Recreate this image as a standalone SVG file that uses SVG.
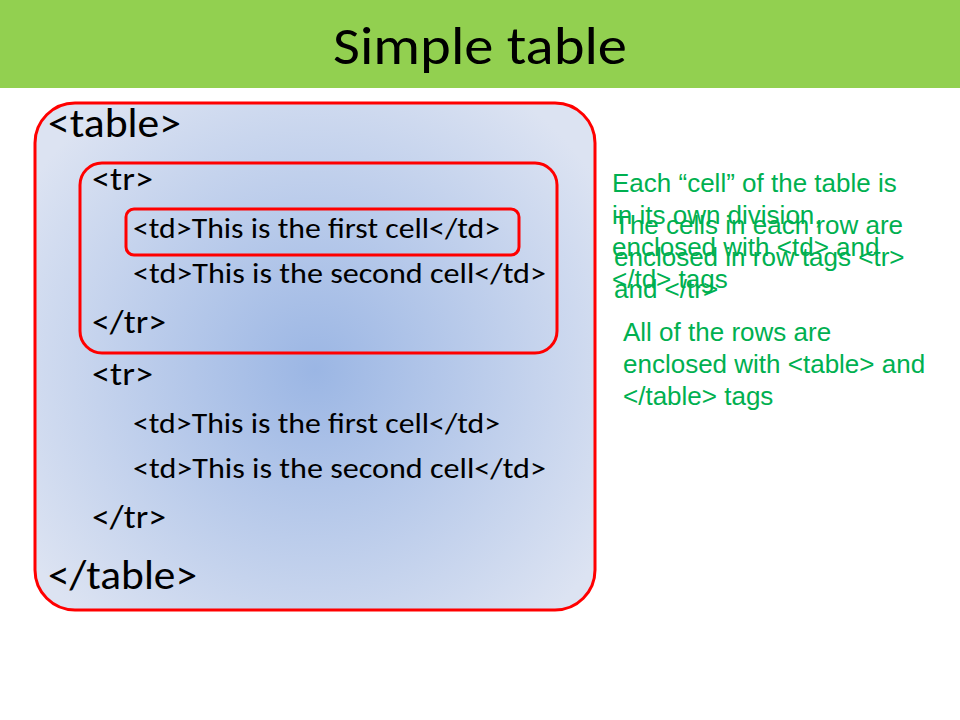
<svg xmlns="http://www.w3.org/2000/svg" width="960" height="720" viewBox="0 0 960 720">
<defs>
<radialGradient id="g" cx="315" cy="370" r="340" gradientUnits="userSpaceOnUse">
<stop offset="0" stop-color="#9BB6E4"/><stop offset="1" stop-color="#DCE3F2"/>
</radialGradient>
<style>
.box{fill:none;stroke:#FF0000;stroke-width:3}
.c{font-family:Carlito,Lato,"Open Sans",sans-serif;fill:#000}
.n{font-family:"Liberation Sans",Arial,sans-serif;font-size:26px;fill:#00B050}
</style>
</defs>
<rect width="960" height="720" fill="#fff"/>
<g id="title"><rect x="0" y="0" width="960" height="88" fill="#92D050"/>
<text x="333" y="64" class="c" font-size="54" textLength="294" lengthAdjust="spacingAndGlyphs">Simple table</text></g>
<g id="table"><rect x="35" y="103" width="560" height="507" rx="40" class="box" style="fill:url(#g)"/>
<text x="48" y="137" class="c" font-size="40" textLength="133" lengthAdjust="spacingAndGlyphs">&lt;table&gt;</text>
<text x="48" y="589" class="c" font-size="40" textLength="149" lengthAdjust="spacingAndGlyphs">&lt;/table&gt;</text></g>
<g id="row1"><rect x="80" y="163" width="477" height="190" rx="22" class="box"/>
<text x="92" y="190" class="c" font-size="32" textLength="61" lengthAdjust="spacingAndGlyphs">&lt;tr&gt;</text>
<text x="133" y="283" class="c" font-size="28" textLength="413" lengthAdjust="spacingAndGlyphs">&lt;td&gt;This is the second cell&lt;/td&gt;</text>
<text x="92" y="333" class="c" font-size="32" textLength="74" lengthAdjust="spacingAndGlyphs">&lt;/tr&gt;</text></g>
<g id="cell1"><rect x="126" y="209" width="393" height="46" rx="8" class="box"/>
<text x="133" y="238" class="c" font-size="28" textLength="367" lengthAdjust="spacingAndGlyphs">&lt;td&gt;This is the first cell&lt;/td&gt;</text></g>
<g id="row2">
<text x="92" y="385" class="c" font-size="32" textLength="61" lengthAdjust="spacingAndGlyphs">&lt;tr&gt;</text>
<text x="133" y="433" class="c" font-size="28" textLength="367" lengthAdjust="spacingAndGlyphs">&lt;td&gt;This is the first cell&lt;/td&gt;</text>
<text x="133" y="478" class="c" font-size="28" textLength="413" lengthAdjust="spacingAndGlyphs">&lt;td&gt;This is the second cell&lt;/td&gt;</text>
<text x="92" y="528" class="c" font-size="32" textLength="74" lengthAdjust="spacingAndGlyphs">&lt;/tr&gt;</text></g>
<g id="notes">
<text class="n"><tspan x="612" y="192">Each “cell” of the table is</tspan><tspan x="612" y="224">in its own division,</tspan><tspan x="612" y="256">enclosed with &lt;td&gt; and</tspan><tspan x="612" y="288">&lt;/td&gt; tags</tspan></text>
<text class="n"><tspan x="614" y="234">The cells in each row are</tspan><tspan x="614" y="266">enclosed in row tags &lt;tr&gt;</tspan><tspan x="614" y="298">and &lt;/tr&gt;</tspan></text>
<text class="n"><tspan x="623" y="341">All of the rows are</tspan><tspan x="623" y="373">enclosed with &lt;table&gt; and</tspan><tspan x="623" y="405">&lt;/table&gt; tags</tspan></text>
</g>
<g id="connectors"/>
</svg>
